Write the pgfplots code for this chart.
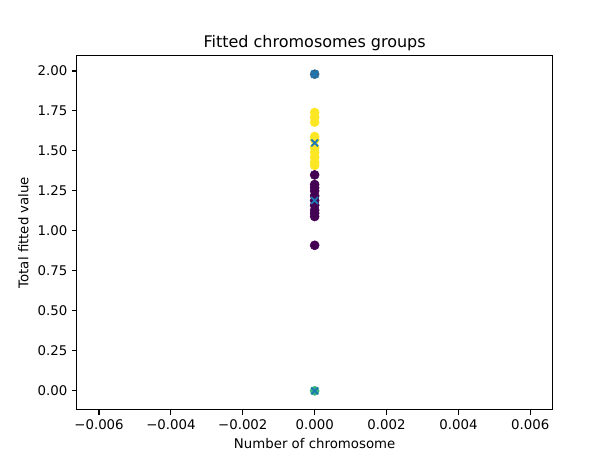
\documentclass[border=0pt]{standalone}
\usepackage{pgfplots}
\pgfplotsset{compat=1.18}
\usepackage{fontspec}
\setmainfont{DejaVu Sans}
\definecolor{vpurple}{HTML}{440154}
\definecolor{vblue}{HTML}{31688E}
\definecolor{vgreen}{HTML}{35B779}
\definecolor{vyellow}{HTML}{FDE725}
\definecolor{cz}{HTML}{1F77B4}
\begin{document}
\begin{tikzpicture}
\useasboundingbox (-57.6pt,-38.0pt) rectangle (403.2pt,307.6pt);
\begin{axis}[
  at={(0pt,0pt)}, anchor=south west,
  scale only axis, width=357.1pt, height=266.1pt,
  xmin=-0.00662, xmax=0.00662,
  ymin=-0.119, ymax=2.098,
  scaled x ticks=false, scaled y ticks=false,
  axis line style={black, line width=0.8pt},
  tick style={black, line width=0.8pt},
  tick align=outside, major tick length=3.5pt,
  xtick pos=lower, ytick pos=left,
  xtick={-0.006,-0.004,-0.002,0,0.002,0.004,0.006},
  xticklabels={−0.006,−0.004,−0.002,0.000,0.002,0.004,0.006},
  ytick={0,0.25,0.5,0.75,1,1.25,1.5,1.75,2},
  yticklabels={0.00,0.25,0.50,0.75,1.00,1.25,1.50,1.75,2.00},
  ticklabel style={font=\fontsize{10}{12}\selectfont},
  /pgf/number format/assume math mode=true,
  xlabel={Number of chromosome}, ylabel={Total fitted value},
  label style={font=\fontsize{10}{12}\selectfont},
  title={Fitted chromosomes groups},
  title style={font=\fontsize{12}{14}\selectfont, anchor=base, inner sep=0pt, yshift=-0.5pt},
  clip=false,
]
\addplot[only marks, mark=*, mark size=3.4pt, color=vblue] coordinates {(0,1.98)};
\addplot[only marks, mark=*, mark size=3.4pt, color=vgreen] coordinates {(0,0)};
\addplot[only marks, mark=*, mark size=3.4pt, color=vyellow] coordinates {
(0,1.74) (0,1.71) (0,1.68) (0,1.59) (0,1.57) (0,1.52) (0,1.49) (0,1.46) (0,1.43) (0,1.41)};
\addplot[only marks, mark=*, mark size=3.4pt, color=vpurple] coordinates {
(0,1.35) (0,1.29) (0,1.27) (0,1.25) (0,1.22) (0,1.19) (0,1.16) (0,1.13) (0,1.11) (0,1.09) (0,0.91)};
\addplot[only marks, mark=x, mark size=3.6pt, mark options={line width=1.4pt}, color=cz] coordinates {
(0,1.98) (0,1.55) (0,1.19) (0,0)};
\end{axis}
\end{tikzpicture}
\end{document}
